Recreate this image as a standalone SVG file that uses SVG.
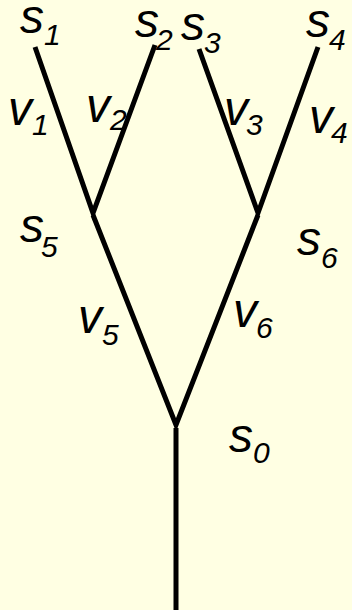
<svg xmlns="http://www.w3.org/2000/svg" width="352" height="610" viewBox="0 0 352 610">
<style>
.e{fill:none;stroke:#000;stroke-width:5;stroke-linejoin:miter;stroke-miterlimit:20;stroke-linecap:butt}
.m{font-family:"Liberation Sans",Arial,sans-serif;font-style:italic;font-size:48px;fill:#000}
.b{font-family:"Liberation Sans",Arial,sans-serif;font-style:italic;font-size:30px;fill:#000}
</style>
<rect width="352" height="610" fill="#FFFFE3"/>
<g id="connectors">
<polyline class="e" points="35,47 93,213 155,45"/>
<polyline class="e" points="199,49 258,213 318,47"/>
<polyline class="e" points="93,215 176,425 258,215"/>
<line class="e" x1="176" y1="428" x2="176" y2="610"/>
</g>
<g id="s1"><text class="m" x="20" y="33">s</text><text class="b" x="44" y="45">1</text></g>
<g id="s2"><text class="m" x="135" y="37">s</text><text class="b" x="156" y="50">2</text></g>
<g id="s3"><text class="m" x="181" y="40">s</text><text class="b" x="204" y="53">3</text></g>
<g id="s4"><text class="m" x="306" y="37">s</text><text class="b" x="329" y="50">4</text></g>
<g id="v1"><text class="m" x="8" y="125">v</text><text class="b" x="32" y="135">1</text></g>
<g id="v2"><text class="m" x="86" y="122">v</text><text class="b" x="110" y="130">2</text></g>
<g id="v3"><text class="m" x="224" y="125">v</text><text class="b" x="246" y="135">3</text></g>
<g id="v4"><text class="m" x="309" y="133">v</text><text class="b" x="331" y="143">4</text></g>
<g id="s5"><text class="m" x="20" y="242">s</text><text class="b" x="41" y="257">5</text></g>
<g id="s6"><text class="m" x="297" y="255">s</text><text class="b" x="321" y="268">6</text></g>
<g id="v5"><text class="m" x="78" y="333">v</text><text class="b" x="102" y="345">5</text></g>
<g id="v6"><text class="m" x="233" y="327">v</text><text class="b" x="256" y="338">6</text></g>
<g id="s0"><text class="m" x="229" y="452">s</text><text class="b" x="253" y="463">0</text></g>
</svg>
